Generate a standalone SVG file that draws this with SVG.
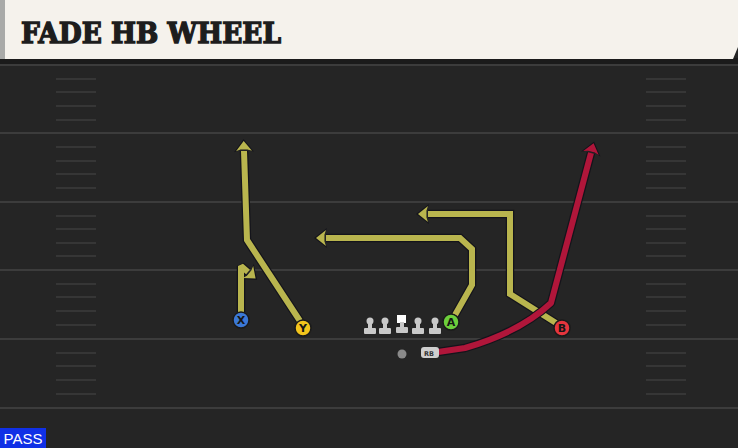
<svg xmlns="http://www.w3.org/2000/svg" width="738" height="448" viewBox="0 0 738 448">
<defs>
<style>
.yl{stroke:#3c3c3c;stroke-width:2;fill:none}
.hs{stroke:#363636;stroke-width:2}
.out{fill:none;stroke:#14141b;stroke-width:8.5;stroke-linejoin:miter;stroke-linecap:butt}
.ry{fill:none;stroke:#b9b54e;stroke-width:6;stroke-linejoin:miter;stroke-linecap:butt}
.rr{fill:none;stroke:#b0163a;stroke-width:6;stroke-linejoin:round;stroke-linecap:butt}
.ro{fill:none;stroke:#14141b;stroke-width:8.5;stroke-linejoin:round;stroke-linecap:butt}
.bv{stroke-miterlimit:1.5}
.pl{stroke:#1a1a1a;stroke-width:1.5}
.pt{font-family:"DejaVu Sans",sans-serif;font-weight:bold;font-size:11px;fill:#161616;text-anchor:middle}
.ol{fill:#c9c9c9}
</style>
<marker id="aO" markerUnits="userSpaceOnUse" markerWidth="30" markerHeight="30" viewBox="-15 -15 30 30" refX="0" refY="0" orient="auto" overflow="visible">
<polygon points="12,0 -1,-10 1,-4.5 1,4.5 -1,10" fill="#14141b"/>
</marker>
<marker id="aY" markerUnits="userSpaceOnUse" markerWidth="30" markerHeight="30" viewBox="-15 -15 30 30" refX="0" refY="0" orient="auto" overflow="visible">
<polygon points="10,0 0,-8 1.5,-3.5 1.5,3.5 0,8" fill="#b9b54e"/>
</marker>
<marker id="aR" markerUnits="userSpaceOnUse" markerWidth="30" markerHeight="30" viewBox="-15 -15 30 30" refX="0" refY="0" orient="auto" overflow="visible">
<polygon points="10,0 0,-8 1.5,-3.5 1.5,3.5 0,8" fill="#b0163a"/>
</marker>
</defs>
<rect width="738" height="448" fill="#252525"/>
<rect x="0" y="58" width="738" height="6" fill="#1b1b1b"/>
<g id="field">
<line class="yl" x1="0" y1="65" x2="738" y2="65"/>
<line class="yl" x1="0" y1="133" x2="738" y2="133"/>
<line class="yl" x1="0" y1="202" x2="738" y2="202"/>
<line class="yl" x1="0" y1="270" x2="738" y2="270"/>
<line class="yl" x1="0" y1="339" x2="738" y2="339"/>
<line class="yl" x1="0" y1="408" x2="738" y2="408"/>
<g class="hs">
<line x1="56" y1="79" x2="96" y2="79"/><line x1="56" y1="92" x2="96" y2="92"/><line x1="56" y1="106" x2="96" y2="106"/><line x1="56" y1="120" x2="96" y2="120"/>
<line x1="56" y1="147" x2="96" y2="147"/><line x1="56" y1="161" x2="96" y2="161"/><line x1="56" y1="174" x2="96" y2="174"/><line x1="56" y1="188" x2="96" y2="188"/>
<line x1="56" y1="216" x2="96" y2="216"/><line x1="56" y1="229" x2="96" y2="229"/><line x1="56" y1="243" x2="96" y2="243"/><line x1="56" y1="256" x2="96" y2="256"/>
<line x1="56" y1="284" x2="96" y2="284"/><line x1="56" y1="297" x2="96" y2="297"/><line x1="56" y1="311" x2="96" y2="311"/><line x1="56" y1="325" x2="96" y2="325"/>
<line x1="56" y1="353" x2="96" y2="353"/><line x1="56" y1="366" x2="96" y2="366"/><line x1="56" y1="380" x2="96" y2="380"/><line x1="56" y1="394" x2="96" y2="394"/>
<line x1="646" y1="79" x2="686" y2="79"/><line x1="646" y1="92" x2="686" y2="92"/><line x1="646" y1="106" x2="686" y2="106"/><line x1="646" y1="120" x2="686" y2="120"/>
<line x1="646" y1="147" x2="686" y2="147"/><line x1="646" y1="161" x2="686" y2="161"/><line x1="646" y1="174" x2="686" y2="174"/><line x1="646" y1="188" x2="686" y2="188"/>
<line x1="646" y1="216" x2="686" y2="216"/><line x1="646" y1="229" x2="686" y2="229"/><line x1="646" y1="243" x2="686" y2="243"/><line x1="646" y1="256" x2="686" y2="256"/>
<line x1="646" y1="284" x2="686" y2="284"/><line x1="646" y1="297" x2="686" y2="297"/><line x1="646" y1="311" x2="686" y2="311"/><line x1="646" y1="325" x2="686" y2="325"/>
<line x1="646" y1="353" x2="686" y2="353"/><line x1="646" y1="366" x2="686" y2="366"/><line x1="646" y1="380" x2="686" y2="380"/><line x1="646" y1="394" x2="686" y2="394"/>
</g>
</g>
<g id="header">
<polygon points="0,0 738,0 738,47 733,59 0,59" fill="#f5f2ec"/>
<rect x="0" y="0" width="5" height="59" fill="#a9aaa8"/>
<text x="21" y="43" font-family="'DejaVu Serif',serif" font-weight="bold" font-size="28" fill="#1d1d1d" stroke="#1d1d1d" stroke-width="1.4" textLength="260" lengthAdjust="spacingAndGlyphs">FADE HB WHEEL</text>
</g>
<g id="connectors">
<path class="out bv" d="M241,312 L241,266 L248,272" marker-end="url(#aO)"/>
<path class="ry bv" d="M241,312 L241,266 L248,272" marker-end="url(#aY)"/>
<path class="out" d="M300,321 L247,240 L244,151" marker-end="url(#aO)"/>
<path class="ry" d="M300,321 L247,240 L244,151" marker-end="url(#aY)"/>
<path class="out" d="M455,315 L472,285 L472,249 L460,238 L326,238" marker-end="url(#aO)"/>
<path class="ry" d="M455,315 L472,285 L472,249 L460,238 L326,238" marker-end="url(#aY)"/>
<path class="out" d="M556,323 L510,294 L510,214 L428,214" marker-end="url(#aO)"/>
<path class="ry" d="M556,323 L510,294 L510,214 L428,214" marker-end="url(#aY)"/>
<path class="ro" d="M438,352 L465,348 Q520,332 551,303 L591,153" marker-end="url(#aO)"/>
<path class="rr" d="M438,352 L465,348 Q520,332 551,303 L591,153" marker-end="url(#aR)"/>
</g>
<g id="X"><circle class="pl" cx="241" cy="320" r="8" fill="#3b78d6"/><text class="pt" x="241" y="324">X</text></g>
<g id="Y"><circle class="pl" cx="303" cy="328" r="8" fill="#f2c41c"/><text class="pt" x="303" y="332">Y</text></g>
<g id="A"><circle class="pl" cx="451" cy="322" r="8" fill="#6ccf3c"/><text class="pt" x="451" y="326">A</text></g>
<g id="B"><circle class="pl" cx="562" cy="328" r="8" fill="#e6353d"/><text class="pt" x="562" y="332">B</text></g>
<g id="OL1" class="ol"><circle cx="370" cy="321" r="3.5"/><rect x="368" y="321" width="4" height="8"/><rect x="364" y="328" width="12" height="6" rx="1"/></g>
<g id="OL2" class="ol"><circle cx="385" cy="321" r="3.5"/><rect x="383" y="321" width="4" height="8"/><rect x="379" y="328" width="12" height="6" rx="1"/></g>
<g id="C" class="ol"><rect x="397" y="315" width="9" height="8" fill="#ffffff"/><rect x="400" y="322" width="4" height="6"/><rect x="396" y="327" width="12" height="6" rx="1"/></g>
<g id="OL4" class="ol"><circle cx="418" cy="321" r="3.5"/><rect x="416" y="321" width="4" height="8"/><rect x="412" y="328" width="12" height="6" rx="1"/></g>
<g id="OL5" class="ol"><circle cx="435" cy="321" r="3.5"/><rect x="433" y="321" width="4" height="8"/><rect x="429" y="328" width="12" height="6" rx="1"/></g>
<g id="QB"><circle cx="402" cy="354" r="4.5" fill="#8a8a8a"/></g>
<g id="RB"><rect x="421" y="347" width="18" height="11" rx="3" fill="#cfcfcf"/><text x="429" y="355.5" font-family="'DejaVu Sans',sans-serif" font-weight="bold" font-size="6.5" fill="#333" text-anchor="middle">RB</text></g>
<g id="pass"><rect x="0" y="428" width="46" height="20" fill="#1030e6"/><text x="23" y="444" font-family="'Liberation Sans',sans-serif" font-size="15" fill="#ffffff" text-anchor="middle">PASS</text></g>
</svg>
